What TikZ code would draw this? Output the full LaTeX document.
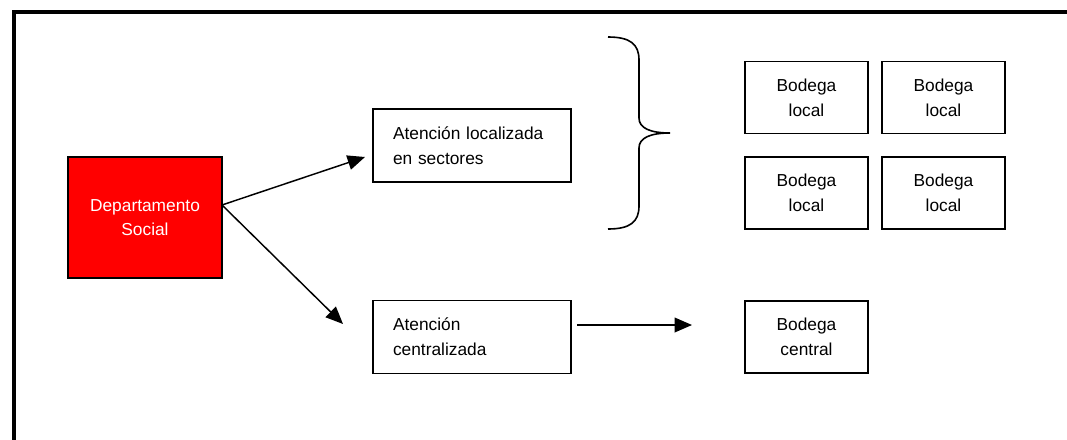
\documentclass[tikz,border=0pt]{standalone}
\usepackage{fontspec}
\setmainfont{Liberation Sans}
\usetikzlibrary{arrows.meta}
\begin{document}
\begin{tikzpicture}[x=0.75pt, y=-0.75pt,
    box/.style={rectangle, draw, line width=1pt, font=\fontsize{13}{18.5}\selectfont,
        align=center, inner sep=0pt, minimum width=92.25pt, minimum height=54pt},
    atbox/.style={box, align=left, text width=118.5pt, inner xsep=15pt, minimum height=54.75pt},
    flecha/.style={-{Triangle[length=13pt,width=11pt]}, line width=1.1pt}
]
\useasboundingbox (0,0) rectangle (1067,439);
% Marco
\draw[line width=2.4pt] (14,450) -- (14,12) -- (1080,12);

% Departamento
\node[box, fill=red, text=white, minimum width=115.5pt, minimum height=90.75pt] (depto) at (145,217.5) {Departamento\\Social};
\coordinate (src) at (222,205);

% Atencion
\node[atbox] (loc) at (472,145.5) {Atención localizada\\en sectores};
\node[atbox] (cen) at (472,337) {Atención\\centralizada};
\coordinate (p1) at (365,157);
\coordinate (p2) at (343,324);
\draw[flecha] (src) -- (p1);
\draw[flecha] (src) -- (p2);

% Llave
\draw[line width=1.2pt] (608,37) .. controls (630,37) and (639,44) .. (639,60)
    -- (639,118) .. controls (639,128) and (650,133) .. (670,133)
    .. controls (650,133) and (639,138) .. (639,148)
    -- (639,206) .. controls (639,222) and (630,229) .. (608,229);

% Bodegas locales
\foreach \i/\x in {1/806.5,2/943.5} {
    \node[box] (bl\i) at (\x,97.5) {Bodega\\local};
    \node[box] (bm\i) at (\x,193) {Bodega\\local};
}

% Bodega central
\node[box] (bc) at (806.5,337) {Bodega\\central};
\coordinate (q1) at (577,325);
\coordinate (q2) at (692,325);
\draw[flecha] (q1) -- (q2);
\end{tikzpicture}
\end{document}
